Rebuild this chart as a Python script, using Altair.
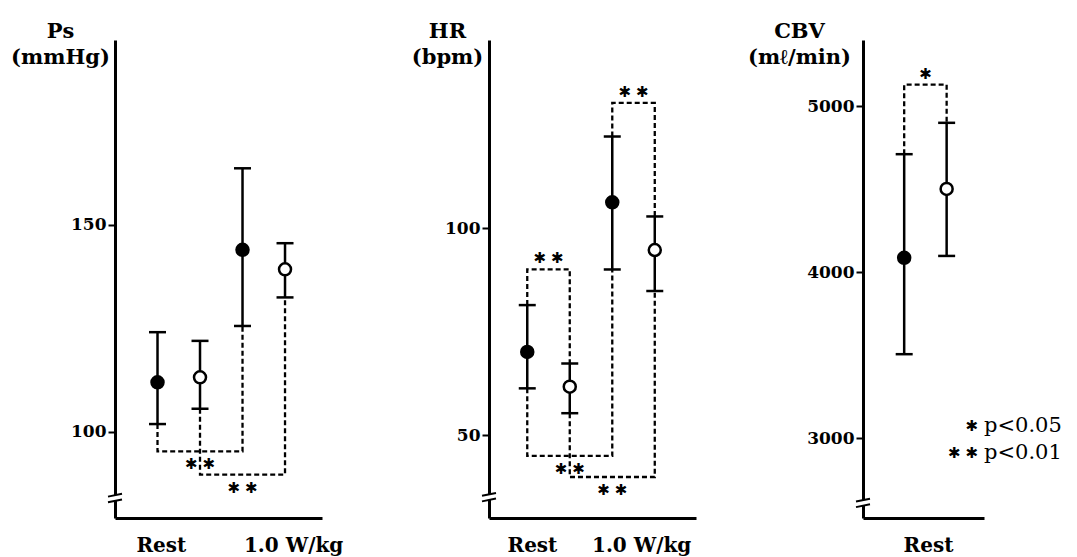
import altair as alt
import pandas as pd

FONT = "DejaVu Serif"
STAR_FONT = "DejaVu Sans"

kinds = ["filled", "open", "filled", "open"]

# ---- Ps (mmHg) ----
ps_mean = [112.0, 113.2, 144.0, 139.3]
ps_upper = [124.1, 122.0, 163.7, 145.6]
ps_lower = [101.9, 105.6, 125.6, 132.5]
ps_brackets = [(0, 2, 95.3, "**"), (1, 3, 89.7, "**")]
ps_ticks = [100, 150]
ps_domain = [79.2, 194.7]
ps_break = 84.2

# ---- HR (bpm) ----
hr_mean = [70.1, 61.7, 106.2, 94.7]
hr_upper = [81.4, 67.3, 122.1, 102.8]
hr_lower = [61.3, 55.3, 90.0, 84.8]
hr_brackets = [(0, 1, 90.0, "**"), (2, 3, 130.2, "**"),
               (0, 2, 45.0, "**"), (1, 3, 39.9, "**")]
hr_ticks = [50, 100]
hr_domain = [30.0, 145.4]
hr_break = 35.2

# ---- CBV (ml/min) ----
cbv_mean = [4086, 4501]
cbv_upper = [4710, 4899]
cbv_lower = [3505, 4097]
cbv_brackets = [(0, 1, 5129, "*")]
cbv_ticks = [3000, 4000, 5000]
cbv_domain = [2518, 5398]
cbv_break = 2613

group_labels = ["Rest", "1.0 W/kg"]
legend_stars = ["*", "**"]
legend_texts = ["p<0.05", "p<0.01"]


def stars(s):
    return "\u2004".join(["\u2731"] * len(s))


def panel(mean, upper, lower, brackets, ydomain, yticks, title, title_x,
          xdomain, label_pos, labels, width, brk, legend=False):
    n = len(mean)
    pts = pd.DataFrame({"x": list(range(1, n + 1)), "y": mean,
                        "lo": lower, "hi": upper, "kind": kinds[:n]})
    caps = pd.DataFrame({"x": list(range(1, n + 1)) * 2, "y": list(lower) + list(upper)})

    rows, txt = [], []
    for b, (i, j, level, lab) in enumerate(brackets):
        sa = lower[i] if level < mean[i] else upper[i]
        sb = lower[j] if level < mean[j] else upper[j]
        rows += [(b, 0, i + 1, sa), (b, 1, i + 1, level),
                 (b, 2, j + 1, level), (b, 3, j + 1, sb)]
        side = "below" if level < mean[i] else "above"
        txt.append(((i + j) / 2 + 1, level, stars(lab), side))
    bdf = pd.DataFrame(rows, columns=["b", "o", "x", "y"])
    tdf = pd.DataFrame(txt, columns=["x", "y", "t", "side"])

    if len(labels) == 2:
        mid = (label_pos[0] + label_pos[1]) / 2
        lexpr = f"datum.value < {mid} ? '{labels[0]}' : '{labels[1]}'"
    else:
        lexpr = f"'{labels[0]}'"

    yscale = alt.Scale(domain=ydomain, nice=False, zero=False)
    X = alt.X("x:Q", scale=alt.Scale(domain=xdomain, nice=False, zero=False),
              axis=alt.Axis(values=label_pos, labelExpr=lexpr, ticks=False, grid=False,
                            domainWidth=3, domainColor="black", labelFont=FONT,
                            labelFontSize=20, labelFontWeight="bold", labelColor="black",
                            labelPadding=17,
                            labelBaseline="top", labelAngle=0, labelAlign="center",
                            labelFlush=False, labelOverlap=False, title=None))
    Y = alt.Y("y:Q", scale=yscale,
              axis=alt.Axis(values=yticks, format="d", title=title, titleAngle=0,
                            titleX=title_x, titleY=-3, titleAlign="center",
                            titleBaseline="alphabetic",
                            titleFont=FONT, titleFontSize=21, titleFontWeight="bold",
                            titleColor="black", titleLineHeight=26,
                            tickSize=7, tickWidth=2, tickColor="black",
                            domainWidth=3, domainColor="black", labelFont=FONT,
                            labelFontSize=17, labelFontWeight="bold", labelColor="black",
                            labelPadding=2, grid=False))

    rule = alt.Chart(pts).mark_rule(color="black", strokeWidth=2.5).encode(
        x=X, y=alt.Y("lo:Q", scale=yscale), y2="hi:Q")
    cap = alt.Chart(caps).mark_point(shape="M-1,0L1,0", size=289, strokeWidth=2.5,
                                     color="black", opacity=1, filled=False).encode(x=X, y=Y)
    lines = alt.Chart(bdf).mark_line(strokeDash=[5, 3], strokeWidth=2.3, color="black").encode(
        x=X, y=Y, detail="b:N", order="o:Q")
    dots = alt.Chart(pts).mark_point(shape="circle", size=144, filled=True, stroke="black",
                                     strokeWidth=2.5, opacity=1).encode(
        x=X, y=Y,
        fill=alt.Fill("kind:N", scale=alt.Scale(domain=["filled", "open"],
                                                range=["black", "white"]), legend=None))
    below = alt.Chart(tdf).transform_filter("datum.side == 'below'").mark_text(
        font=STAR_FONT, fontSize=15, dy=13, baseline="middle", color="black").encode(
        x=X, y=Y, text="t:N")
    above = alt.Chart(tdf).transform_filter("datum.side == 'above'").mark_text(
        font=STAR_FONT, fontSize=15, dy=-11, baseline="middle", color="black").encode(
        x=X, y=Y, text="t:N")
    bk = pd.DataFrame({"x": [xdomain[0]], "y": [brk]})
    cut = alt.Chart(bk).mark_point(shape="M-1,-0.1L1,-0.5L1,0.3L-1,0.7Z", size=196,
                                   filled=True, fill="white", strokeWidth=0, opacity=1).encode(x=X, y=Y)
    brkl = alt.Chart(bk).mark_point(shape="M-1,-0.1L1,-0.5M-1,0.7L1,0.3", size=196,
                                    filled=False, color="black", strokeWidth=2, opacity=1).encode(x=X, y=Y)
    layers = [lines, rule, cap, dots, below, above, cut, brkl]
    if legend:
        for k, (s, t) in enumerate(zip(legend_stars, legend_texts)):
            d = pd.DataFrame({"s": [stars(s)], "t": [t]})
            layers.append(alt.Chart(d).mark_text(font=STAR_FONT, fontSize=15, align="right",
                                                  baseline="middle", color="black").encode(
                x=alt.value(width - 6), y=alt.value(386 + 27 * k), text="s:N"))
            layers.append(alt.Chart(d).mark_text(font=FONT, fontSize=21, align="left",
                                                  baseline="middle", color="black").encode(
                x=alt.value(width), y=alt.value(386 + 27 * k), text="t:N"))
    return alt.layer(*layers).properties(width=width, height=478)


p1 = panel(ps_mean, ps_upper, ps_lower, ps_brackets, ps_domain, ps_ticks,
           ["Ps", "(mmHg)"], -55, [0, 4.87], [1.08, 4.19], group_labels, 207, ps_break)
p2 = panel(hr_mean, hr_upper, hr_lower, hr_brackets, hr_domain, hr_ticks,
           ["HR", "(bpm)"], -42, [0.1, 4.97], [1.11, 3.68], group_labels, 207, hr_break)
p3 = panel(cbv_mean, cbv_upper, cbv_lower, cbv_brackets, cbv_domain, cbv_ticks,
           ["CBV", "(m\u2113/min)"], -64, [0.03, 2.88], [1.56], group_labels[:1], 121,
           cbv_break, legend=True)

chart = alt.hconcat(p1, p2, p3, spacing=167, bounds="flush").properties(
    padding={"left": 2, "top": 12, "right": 5, "bottom": 5},
    background="white",
).configure_view(stroke=None)

chart.save("out.html", embed_options={"renderer": "svg", "actions": False})
